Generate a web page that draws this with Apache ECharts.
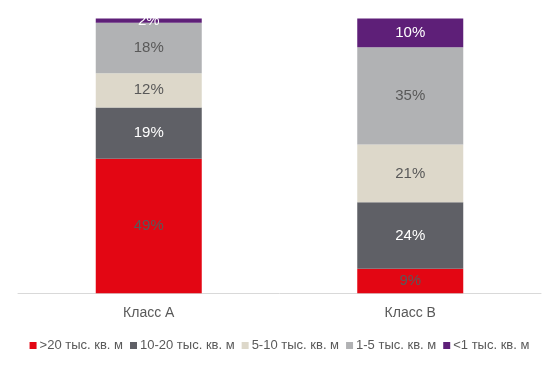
<!DOCTYPE html>
<html>
<head>
<meta charset="utf-8">
<script src="https://cdn.jsdelivr.net/npm/echarts@6/dist/echarts.min.js"></script>
<style>html,body{margin:0;padding:0;background:#fff}#c{width:559px;height:366px}</style>
</head>
<body>
<div id="c"></div>
<script>
var categories = ['Класс А', 'Класс В'];
var seriesNames = ['>20 тыс. кв. м', '10-20 тыс. кв. м', '5-10 тыс. кв. м', '1-5 тыс. кв. м', '<1 тыс. кв. м'];
var s20plus = [48.9, 8.9];
var s10to20 = [18.7, 24.2];
var s5to10 = [12.4, 21.0];
var s1to5 = [18.4, 35.4];
var sLess1 = [1.5, 10.4];

var colors = ['#E30613', '#5F6066', '#DDD8CA', '#B1B2B4', '#5E1F78'];
var labelColors = ['#595959', '#ffffff', '#595959', '#595959', '#ffffff'];
var allData = [s20plus, s10to20, s5to10, s1to5, sLess1];

var series = seriesNames.map(function (name, i) {
  return {
    name: name,
    type: 'bar',
    stack: 'total',
    barWidth: 106,
    data: allData[i],
    itemStyle: { color: colors[i] },
    label: {
      show: true,
      position: 'inside',
      color: labelColors[i],
      fontSize: 15,
      fontFamily: 'Liberation Sans, Arial, sans-serif',
      formatter: function (p) { return Math.round(p.value) + '%'; }
    },
    emphasis: { disabled: true }
  };
});

var chart = echarts.init(document.getElementById('c'), null, { renderer: 'canvas' });
chart.setOption({
  animation: false,
  textStyle: { fontFamily: 'Liberation Sans, Arial, sans-serif' },
  grid: { left: 18, right: 18, top: 18.3, bottom: 72.7, containLabel: false },
  xAxis: {
    type: 'category',
    data: categories,
    axisLine: { lineStyle: { color: '#D9D9D9', width: 1 } },
    axisTick: { show: false },
    axisLabel: { color: '#595959', fontSize: 14, margin: 13 }
  },
  yAxis: {
    type: 'value',
    min: 0,
    max: 100,
    show: false,
    splitLine: { show: false }
  },
  legend: {
    data: seriesNames,
    top: 334,
    left: 'center',
    itemWidth: 7,
    itemHeight: 7,
    itemGap: 7,
    icon: 'rect',
    textStyle: { color: '#595959', fontSize: 13, padding: [0, 0, 0, -2] }
  },
  series: series
});
</script>
</body>
</html>
